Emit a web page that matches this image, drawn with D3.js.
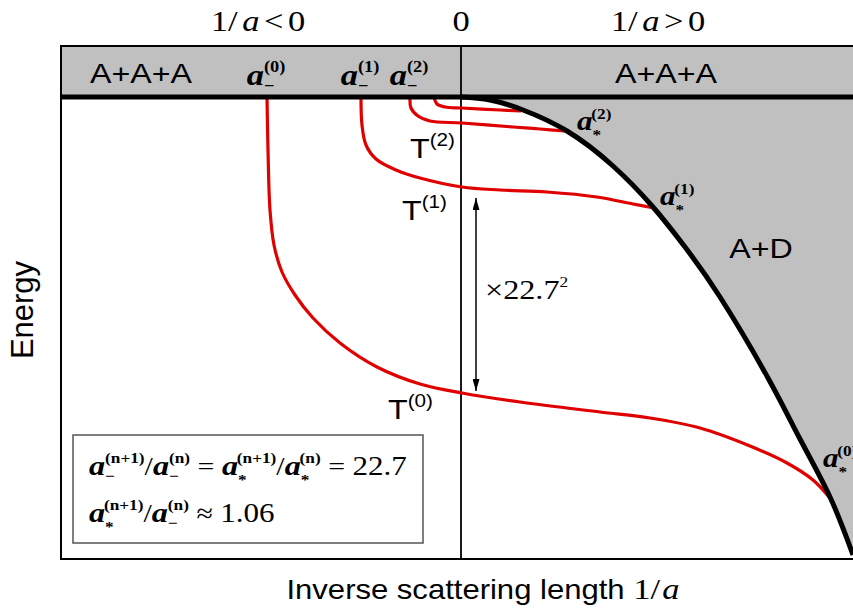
<!DOCTYPE html>
<html>
<head>
<meta charset="utf-8">
<script src="https://cdn.jsdelivr.net/npm/d3@7"></script>
<style>
  body { margin: 0; background: #fff; }
  svg { display: block; }
</style>
</head>
<body>
<svg id="chart"></svg>
<script>
// 1/a in arbitrary units (0 = unitarity), energy in arbitrary units (0 = three-atom threshold)
const thresholdX = [0, 0.29, 0.62, 1.06, 1.52, 1.92, 2.24, 2.59, 3.07, 3.39, 3.69, 3.92];
const thresholdE = [0, -0.03, -0.13, -0.34, -0.69, -1.10, -1.50, -2.00, -2.81, -3.42, -4.00, -4.58];

// Efimov trimer branches T(0) .. T(3)
const trimer0X = [-1.94, -1.93, -1.91, -1.87, -1.79, -1.66, -1.48, -1.21, -0.84, -0.41, 0.01, 0.59, 1.39, 1.89, 2.39, 2.89, 3.26, 3.52, 3.68];
const trimer0E = [0, -0.53, -1.13, -1.48, -1.75, -1.98, -2.21, -2.46, -2.70, -2.87, -2.96, -3.05, -3.15, -3.21, -3.31, -3.49, -3.66, -3.83, -4.00];
const trimer1X = [-1.00, -0.99, -0.95, -0.85, -0.65, -0.41, 0.01, 0.39, 0.86, 1.36, 1.72, 1.93];
const trimer1E = [0, -0.28, -0.48, -0.62, -0.73, -0.81, -0.90, -0.93, -0.95, -1.00, -1.07, -1.11];
const trimer2X = [-0.51, -0.50, -0.43, -0.31, 0.01, 0.52, 0.79, 1.04];
const trimer2E = [0, -0.11, -0.19, -0.24, -0.26, -0.30, -0.32, -0.34];
const trimer3X = [-0.27, -0.24, -0.16, 0.01, 0.39, 0.60];
const trimer3E = [0, -0.07, -0.10, -0.11, -0.13, -0.14];

const trimerLabels = ["(0)", "(1)", "(2)"];
const regionLabels = ["A+A+A", "A+A+A", "A+D"];
const signLabels = ["<", "0", ">"];
const scalingFactor = "22.7";
const ratioValue = "1.06";

const W = 853, H = 615;
const frame = { left: 61, top: 46, right: 853, bottom: 559, band: 97 };
const SX = 1.15; // the source picture is stretched horizontally
const SANS = "'Liberation Sans', Arial, sans-serif";
const SERIF = "'Liberation Serif', 'Times New Roman', serif";
const RED = "#e10000";
const GRAY = "#c0c0c0";

const svg = d3.select("#chart").attr("width", W).attr("height", H);

const x = d3.scaleLinear().domain([-4.0, 3.92]).range([frame.left, frame.right]);
const y = d3.scaleLinear().domain([0, -4.62]).range([frame.band, frame.bottom]);

const toPts = (xs, es) => xs.map((v, i) => [v, es[i]]);
const threshold = toPts(thresholdX, thresholdE);
const trimers = [
    toPts(trimer0X, trimer0E),
    toPts(trimer1X, trimer1E),
    toPts(trimer2X, trimer2E),
    toPts(trimer3X, trimer3E)
];

const defs = svg.append("defs");
defs.append("clipPath").attr("id", "plotClip")
    .append("rect")
    .attr("x", frame.left).attr("y", frame.top)
    .attr("width", frame.right - frame.left + 10).attr("height", frame.bottom - frame.top);

defs.append("marker")
    .attr("id", "head")
    .attr("viewBox", "0 0 12 7")
    .attr("refX", 12).attr("refY", 3.5)
    .attr("markerWidth", 12).attr("markerHeight", 7)
    .attr("markerUnits", "userSpaceOnUse")
    .attr("orient", "auto-start-reverse")
    .append("path").attr("d", "M0,0 L12,3.5 L0,7 Z").attr("fill", "#000");

const plot = svg.append("g").attr("clip-path", "url(#plotClip)");

// gray header band
plot.append("rect")
    .attr("x", frame.left).attr("y", frame.top)
    .attr("width", frame.right - frame.left + 10).attr("height", frame.band - frame.top)
    .attr("fill", GRAY);

// A+D region below the atom-dimer threshold
plot.append("path")
    .datum(threshold)
    .attr("fill", GRAY)
    .attr("d", d3.area()
        .x(d => x(d[0]))
        .y0(y(0))
        .y1(d => y(d[1]))
        .curve(d3.curveNatural));

// zero line
plot.append("line")
    .attr("x1", x(0)).attr("x2", x(0))
    .attr("y1", frame.top).attr("y2", frame.bottom)
    .attr("stroke", "#000").attr("stroke-width", 1.8);

// trimer branches
const line = d3.line().x(d => x(d[0])).y(d => y(d[1])).curve(d3.curveCatmullRom.alpha(0.5));
plot.selectAll(".trimer")
    .data(trimers)
    .join("path")
    .attr("class", "trimer")
    .attr("fill", "none")
    .attr("stroke", RED)
    .attr("stroke-width", 3.2)
    .attr("d", line);

// three-atom threshold + atom-dimer threshold
plot.append("line")
    .attr("x1", frame.left).attr("x2", frame.right + 10)
    .attr("y1", y(0)).attr("y2", y(0))
    .attr("stroke", "#000").attr("stroke-width", 5);

plot.append("path")
    .datum(threshold)
    .attr("fill", "none")
    .attr("stroke", "#000")
    .attr("stroke-width", 5)
    .attr("d", d3.line().x(d => x(d[0])).y(d => y(d[1])).curve(d3.curveNatural));

// frame
svg.append("rect")
    .attr("x", frame.left).attr("y", frame.top)
    .attr("width", frame.right - frame.left + 20).attr("height", frame.bottom - frame.top)
    .attr("fill", "none").attr("stroke", "#000").attr("stroke-width", 2);

// ---- text helpers ----
function rich(parent, px, py, parts, anchor = "start", sx = SX) {
    const t = parent.append("text")
        .attr("transform", `translate(${px},${py}) scale(${sx},1)`)
        .attr("text-anchor", anchor)
        .attr("fill", "#000")
        .style("font-family", parts[0].f || SERIF)
        .style("font-size", (parts[0].s || 24) + "px");
    let prev = null;
    let pendingDy = 0;
    parts.forEach(p => {
        const s = t.append("tspan")
            .text(p.t)
            .style("font-family", p.f || SERIF)
            .style("font-size", (p.s || 24) + "px")
            .style("font-style", p.i ? "italic" : "normal")
            .style("font-weight", p.b ? "bold" : "normal");
        let dx = p.dx || 0;
        if (p.back && prev) dx -= prev.node().getComputedTextLength();
        if (dx) s.attr("dx", dx);
        const dy = (p.dy || 0) + pendingDy;
        if (dy) s.attr("dy", dy);
        pendingDy = p.restore || 0;
        prev = s;
    });
    return t;
}

// a with a subscript ("−" or "*") and a superscript; the next part goes back to the baseline
function aSym(sub, sup, size, supSize) {
    const subDy = sub === "*" ? size * 0.36 : size * 0.2;
    const supDy = size * 0.42;
    return [
        { t: "a", i: true, b: true, s: size },
        { t: sub, b: true, s: supSize, dy: subDy },
        { t: sup, b: true, s: supSize, back: true, dx: sub === "*" ? -1 : 0, dy: -(subDy + supDy), restore: supDy }
    ];
}

// top sign labels
const signParts = s => [
    { t: "1/", s: 30 }, { t: "a", i: true, s: 30, dx: 4 }, { t: s, s: 30, dx: 4 }, { t: "0", s: 30, dx: 4 }
];
rich(svg, 258, 31, signParts(signLabels[0]), "middle");
rich(svg, x(0), 31, [{ t: signLabels[1], s: 30 }], "middle");
rich(svg, 658, 31, signParts(signLabels[2]), "middle");

// header band labels
rich(svg, 141, 83, [{ t: regionLabels[0], f: SANS, s: 28 }], "middle");
rich(svg, 666, 83, [{ t: regionLabels[1], f: SANS, s: 28 }], "middle");
trimers.slice(0, 3).forEach((pts, i) => {
    rich(svg, x(pts[0][0]) - 1, 85, aSym("\u2212", trimerLabels[i], 30, 16), "middle");
});

// trimer labels T(n)
const tPos = [[433, 419], [447, 220], [455, 158]];
tPos.forEach((p, i) => {
    rich(svg, p[0], p[1], [
        { t: "T", f: SANS, s: 28 },
        { t: trimerLabels[i], f: SANS, s: 18, dy: -12 }
    ], "end");
});

// a* labels where the trimers hit the atom-dimer threshold
const aStarOffsets = [[-6, -30], [6, -3], [12, -1]];
trimers.slice(0, 3).forEach((pts, i) => {
    const end = pts[pts.length - 1];
    rich(svg, x(end[0]) + aStarOffsets[i][0], y(end[1]) + aStarOffsets[i][1],
        aSym("*", trimerLabels[i], 27, 15));
});

rich(svg, 761, 258, [{ t: regionLabels[2], f: SANS, s: 28 }], "middle");

// scaling arrow between T(1) and T(0)
svg.append("line")
    .attr("x1", x(0.15)).attr("x2", x(0.15))
    .attr("y1", y(-1.01)).attr("y2", y(-2.94))
    .attr("stroke", "#000").attr("stroke-width", 1.5)
    .attr("marker-start", "url(#head)")
    .attr("marker-end", "url(#head)");
rich(svg, 485, 299, [
    { t: "\u00D7", s: 28 }, { t: scalingFactor, s: 28 }, { t: "2", s: 15, dy: -12 }
]);

// ratio box
svg.append("rect")
    .attr("x", 73).attr("y", 435).attr("width", 350).attr("height", 108)
    .attr("fill", "#fff").attr("stroke", "#555").attr("stroke-width", 1.5);
rich(svg, 89, 475, [
    ...aSym("\u2212", "(n+1)", 28, 15), { t: "/", s: 26 },
    ...aSym("\u2212", "(n)", 28, 15), { t: " = ", s: 26 },
    ...aSym("*", "(n+1)", 28, 15), { t: "/", s: 26 },
    ...aSym("*", "(n)", 28, 15), { t: " = ", s: 26 },
    { t: scalingFactor, s: 27 }
]);
rich(svg, 89, 522, [
    ...aSym("*", "(n+1)", 28, 15), { t: "/", s: 26 },
    ...aSym("\u2212", "(n)", 28, 15), { t: " \u2248 ", s: 26 },
    { t: ratioValue, s: 27 }
]);

// axis titles
svg.append("text")
    .attr("transform", "translate(33,310) rotate(-90)")
    .attr("text-anchor", "middle")
    .style("font-family", SANS).style("font-size", "31px")
    .text("Energy");

rich(svg, 483, 599, [
    { t: "Inverse scattering length ", f: SANS, s: 27 },
    { t: "1/", s: 30 }, { t: "a", i: true, s: 30, dx: 2 }
], "middle");
</script>
</body>
</html>
